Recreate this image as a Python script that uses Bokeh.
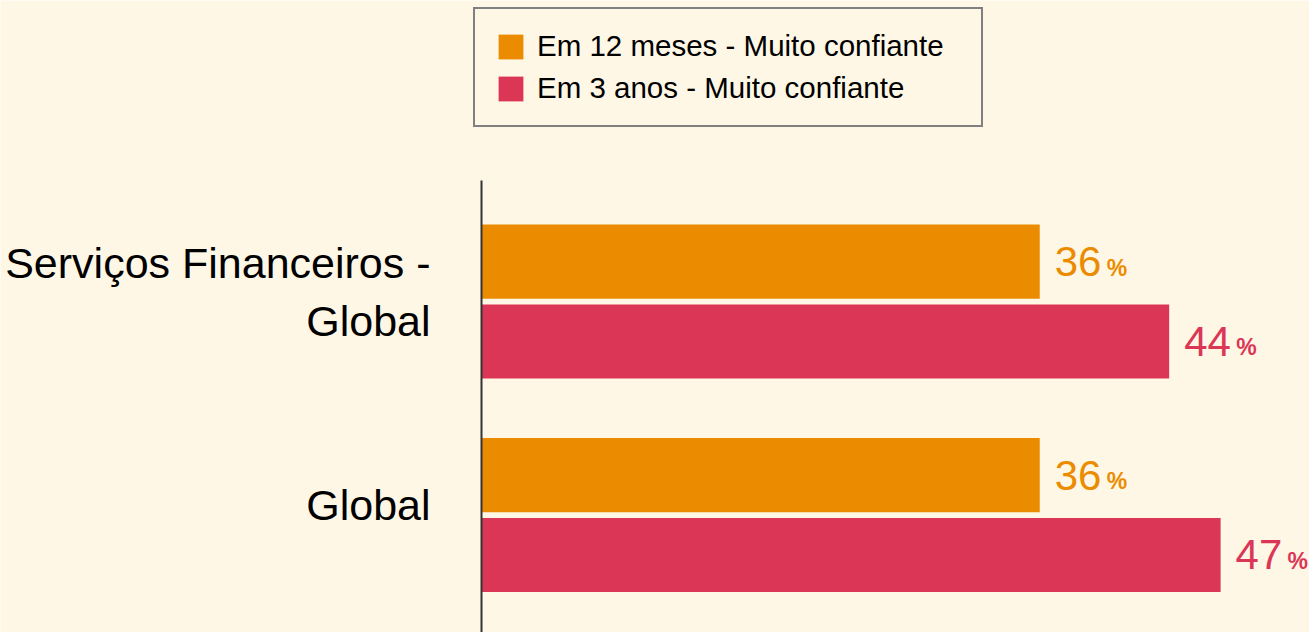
from bokeh.plotting import figure
from bokeh.models import ColumnDataSource, Range1d, FixedTicker, Legend, LegendItem
from bokeh.core.properties import value
from bokeh.embed import file_html
from bokeh.resources import INLINE

# ---- data ----
categories = ["Serviços Financeiros -\nGlobal", "Global"]
series_names = ["Em 12 meses - Muito confiante", "Em 3 anos - Muito confiante"]
em_12_meses = [35.8, 35.8]
em_3_anos = [44.1, 47.4]
cat_pos = [1, 0]

BG = "#FFF7E6"
ORANGE = "#EB8C00"
RED = "#DB3656"
FONT = "Liberation Sans"

dodge = 0.187
bar_h = 0.347
label_shift = 0.045

src12 = ColumnDataSource(dict(
    y=[c + dodge for c in cat_pos], v=em_12_meses,
    t=[str(round(v)) for v in em_12_meses], pct=["%"] * len(em_12_meses)))
src3 = ColumnDataSource(dict(
    y=[c - dodge for c in cat_pos], v=em_3_anos,
    t=[str(round(v)) for v in em_3_anos], pct=["%"] * len(em_3_anos)))

p = figure(width=1309, height=632, output_backend="svg", toolbar_location=None,
           x_range=Range1d(-30.85, 53.1), y_range=Range1d(-0.55, 2.41),
           x_axis_location=None,
           min_border_left=0, min_border_right=0, min_border_top=0, min_border_bottom=0,
           background_fill_color=BG, border_fill_color=BG, outline_line_color=None)
p.grid.visible = False

r1 = p.hbar(y="y", right="v", left=0, height=bar_h, source=src12,
            fill_color=ORANGE, line_color=None)
r2 = p.hbar(y="y", right="v", left=0, height=bar_h, source=src3,
            fill_color=RED, line_color=None)

for src, col in ((src12, ORANGE), (src3, RED)):
    p.text(x="v", y="y", text="t", source=src, x_offset=15, y_offset=0,
           text_baseline="middle", text_align="left",
           text_font=value(FONT), text_font_size="42px", text_color=col)
    p.text(x="v", y="y", text="pct", source=src, x_offset=67, y_offset=6,
           text_baseline="middle", text_align="left",
           text_font=value(FONT), text_font_size="23px", text_font_style="bold",
           text_color=col)

ya = p.yaxis[0]
ya.fixed_location = 0
ya.ticker = FixedTicker(ticks=[c + label_shift for c in cat_pos])
ya.major_label_overrides = {cat_pos[i] + label_shift: categories[i] for i in range(len(categories))}
ya.major_tick_line_color = None
ya.minor_tick_line_color = None
ya.major_tick_in = 0
ya.major_tick_out = 0
ya.major_label_standoff = 51
ya.axis_line_color = "#333333"
ya.axis_line_width = 2
ya.bounds = (-0.55, 1.567)
ya.major_label_text_font = FONT
ya.major_label_text_font_size = "43px"
ya.major_label_text_color = "black"

legend = Legend(items=[LegendItem(label=series_names[0], renderers=[r1]),
                       LegendItem(label=series_names[1], renderers=[r2])],
                location=(473, 505), orientation="vertical",
                border_line_color="#808080", border_line_width=2, border_line_alpha=1,
                background_fill_color=BG, background_fill_alpha=1,
                label_text_font=FONT, label_text_font_size="29.5px",
                label_text_color="black",
                glyph_width=31, glyph_height=31, label_standoff=11,
                label_width=424, label_height=34, spacing=8, padding=20, margin=0)
p.add_layout(legend)

open("out.html", "w").write(file_html(p, INLINE))
